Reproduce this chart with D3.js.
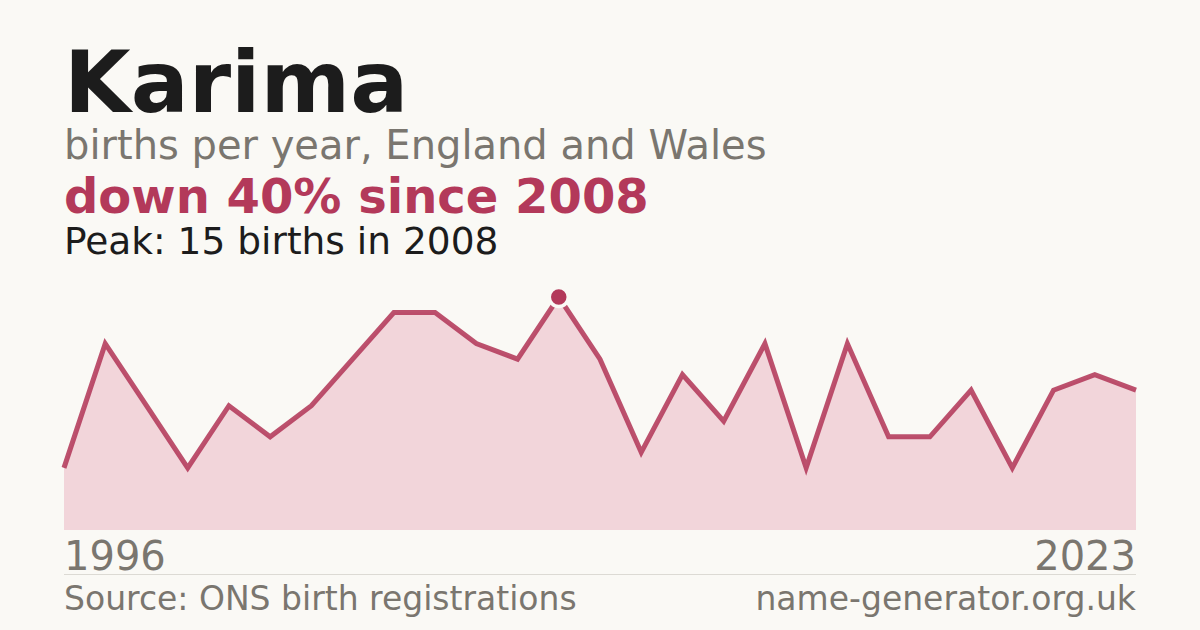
<!DOCTYPE html>
<html>
<head>
<meta charset="utf-8">
<script src="https://cdn.jsdelivr.net/npm/d3@7"></script>
<style>
  html, body { margin: 0; padding: 0; background: #faf9f5; }
  svg { display: block; font-family: "DejaVu Sans", sans-serif; }
</style>
</head>
<body>
<div id="chart"></div>
<script>
// data (births per year)
var years = [1996, 1997, 1998, 1999, 2000, 2001, 2002, 2003, 2004, 2005, 2006, 2007, 2008,
             2009, 2010, 2011, 2012, 2013, 2014, 2015, 2016, 2017, 2018, 2019, 2021, 2022, 2023];
var births = [4, 12, 8, 4, 8, 6, 8, 11, 14, 14, 12, 11, 15,
              11, 5, 10, 7, 12, 4, 12, 6, 6, 9, 4, 9, 10, 9];
var endLabels = ["1996", "2023"];

var width = 1200, height = 630;
var margin = {left: 64, right: 64};

var svg = d3.select("#chart")
  .append("svg")
    .attr("width", width)
    .attr("height", height);

svg.append("rect")
  .attr("width", width)
  .attr("height", height)
  .attr("fill", "#faf9f5");

// titles
svg.append("text")
  .attr("x", 64).attr("y", 112)
  .attr("font-size", 86).attr("font-weight", "bold")
  .attr("fill", "#1c1c1c")
  .text("Karima");

svg.append("text")
  .attr("x", 64).attr("y", 159)
  .attr("font-size", 40)
  .attr("fill", "#7a766f")
  .text("births per year, England and Wales");

svg.append("text")
  .attr("x", 64).attr("y", 213)
  .attr("font-size", 48).attr("font-weight", "bold")
  .attr("fill", "#b3395a")
  .text("down 40% since 2008");

svg.append("text")
  .attr("x", 64).attr("y", 254)
  .attr("font-size", 37.5)
  .attr("fill", "#1c1c1c")
  .text("Peak: 15 births in 2008");

// scales
var x = d3.scalePoint()
  .domain(years)
  .range([margin.left, width - margin.right]);

var y = d3.scaleLinear()
  .domain([0, 15])
  .range([530, 297]);

var data = years.map(function(yr, i) { return {year: yr, value: births[i]}; });

// area
var area = d3.area()
  .x(function(d) { return x(d.year); })
  .y0(y(0))
  .y1(function(d) { return y(d.value); });

svg.append("path")
  .datum(data)
  .attr("d", area)
  .attr("fill", "#f2d5da");

// line
var line = d3.line()
  .x(function(d) { return x(d.year); })
  .y(function(d) { return y(d.value); });

svg.append("path")
  .datum(data)
  .attr("d", line)
  .attr("fill", "none")
  .attr("stroke", "#b3395a")
  .attr("stroke-opacity", 0.88)
  .attr("stroke-width", 5)
  .attr("stroke-linejoin", "miter");

// peak marker
var peak = data.reduce(function(a, b) { return b.value > a.value ? b : a; });
svg.append("circle")
  .attr("cx", x(peak.year))
  .attr("cy", y(peak.value))
  .attr("r", 9.5)
  .attr("fill", "#b3395a")
  .attr("stroke", "#faf9f5")
  .attr("stroke-width", 3.5);

// year labels
svg.append("text")
  .attr("x", margin.left).attr("y", 570)
  .attr("font-size", 40)
  .attr("fill", "#7a766f")
  .text(endLabels[0]);

svg.append("text")
  .attr("x", width - margin.right).attr("y", 570)
  .attr("text-anchor", "end")
  .attr("font-size", 40)
  .attr("fill", "#7a766f")
  .text(endLabels[1]);

// divider
svg.append("line")
  .attr("x1", margin.left).attr("x2", width - margin.right)
  .attr("y1", 574.5).attr("y2", 574.5)
  .attr("stroke", "#dcdad4")
  .attr("stroke-width", 1);

// footer
svg.append("text")
  .attr("x", margin.left).attr("y", 610)
  .attr("font-size", 33)
  .attr("fill", "#7a766f")
  .text("Source: ONS birth registrations");

svg.append("text")
  .attr("x", width - margin.right).attr("y", 610)
  .attr("text-anchor", "end")
  .attr("font-size", 33)
  .attr("fill", "#7a766f")
  .text("name-generator.org.uk");
</script>
</body>
</html>
